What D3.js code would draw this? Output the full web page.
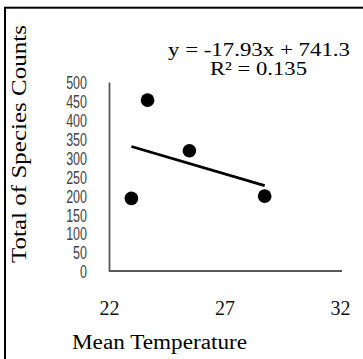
<!DOCTYPE html>
<html>
<head>
<meta charset="utf-8">
<script src="https://d3js.org/d3.v7.min.js"></script>
<style>
  body { margin: 0; background: #fff; }
  .serif { font-family: "Liberation Serif", "Times New Roman", Times, "DejaVu Serif", serif; }
  .sans { font-family: "Liberation Sans", Arial, "DejaVu Sans", sans-serif; }
</style>
</head>
<body>
<div id="chart"></div>
<script>
// Data
const temps = [22.97, 23.67, 25.48, 28.74];
const counts = [192, 452, 318, 198];
const slope = -17.93;
const intercept = 741.3;
const rSquared = 0.135;
const yTicks = [0, 50, 100, 150, 200, 250, 300, 350, 400, 450, 500];
const xTicks = [22, 27, 32];

const width = 363;
const height = 359;

const svg = d3.select("#chart")
    .append("svg")
    .attr("width", width)
    .attr("height", height);

// outer frame (runs off the right/bottom edge)
svg.append("rect")
    .attr("x", 5)
    .attr("y", 7.7)
    .attr("width", 500)
    .attr("height", 500)
    .attr("fill", "#fff")
    .attr("stroke", "#000")
    .attr("stroke-width", 2);

const x = d3.scaleLinear().domain([22, 32]).range([109, 340]);
const y = d3.scaleLinear().domain([0, 500]).range([271, 82]);

// y axis
const yAxis = svg.append("g")
    .attr("transform", "translate(109,0)")
    .call(d3.axisLeft(y).tickValues(yTicks).tickSize(0).tickSizeOuter(0).tickPadding(22));
yAxis.attr("font-family", null).attr("font-size", null);
yAxis.select(".domain").attr("stroke", "#595959").attr("stroke-width", 1.8);
yAxis.selectAll("text")
    .attr("class", "sans")
    .style("font-size", "12.5px")
    .attr("fill", "#444")
    .attr("dy", "0.36em")
    .attr("transform", "scale(1,1.5)");

// x axis
const xAxis = svg.append("g")
    .attr("transform", "translate(0,271)")
    .call(d3.axisBottom(x).tickValues(xTicks).tickSize(0).tickSizeOuter(0).tickPadding(30));
xAxis.attr("font-family", null).attr("font-size", null);
xAxis.select(".domain").attr("stroke", "#595959").attr("stroke-width", 1.8)
    .attr("d", "M109,0H342");
xAxis.selectAll("text")
    .attr("class", "serif")
    .style("font-size", "20px")
    .attr("fill", "#111");

// trendline across the data range
const xMin = d3.min(temps), xMax = d3.max(temps);
svg.append("line")
    .attr("x1", x(xMin))
    .attr("y1", y(slope * xMin + intercept))
    .attr("x2", x(xMax))
    .attr("y2", y(slope * xMax + intercept))
    .attr("stroke", "#000")
    .attr("stroke-width", 2.8);

// points
svg.selectAll(".dot")
    .data(temps)
    .enter()
    .append("circle")
    .attr("class", "dot")
    .attr("cx", d => x(d))
    .attr("cy", (d, i) => y(counts[i]))
    .attr("r", 6.8)
    .attr("fill", "#000");

// equation labels
svg.append("text")
    .attr("class", "serif")
    .attr("x", 259)
    .attr("y", 56)
    .attr("text-anchor", "middle")
    .style("font-size", "19px")
    .attr("textLength", 182)
    .attr("lengthAdjust", "spacingAndGlyphs")
    .text("y = " + slope + "x + " + intercept);

svg.append("text")
    .attr("class", "serif")
    .attr("x", 258.5)
    .attr("y", 75)
    .attr("text-anchor", "middle")
    .style("font-size", "19px")
    .attr("textLength", 97)
    .attr("lengthAdjust", "spacingAndGlyphs")
    .text("R² = " + rSquared);

// axis titles
svg.append("text")
    .attr("class", "serif")
    .attr("transform", "translate(26,144) rotate(-90)")
    .attr("text-anchor", "middle")
    .style("font-size", "20px")
    .attr("textLength", 238)
    .attr("lengthAdjust", "spacingAndGlyphs")
    .text("Total of Species Counts");

svg.append("text")
    .attr("class", "serif")
    .attr("x", 159.5)
    .attr("y", 349)
    .attr("text-anchor", "middle")
    .style("font-size", "20px")
    .attr("textLength", 175)
    .attr("lengthAdjust", "spacingAndGlyphs")
    .text("Mean Temperature");
</script>
</body>
</html>
